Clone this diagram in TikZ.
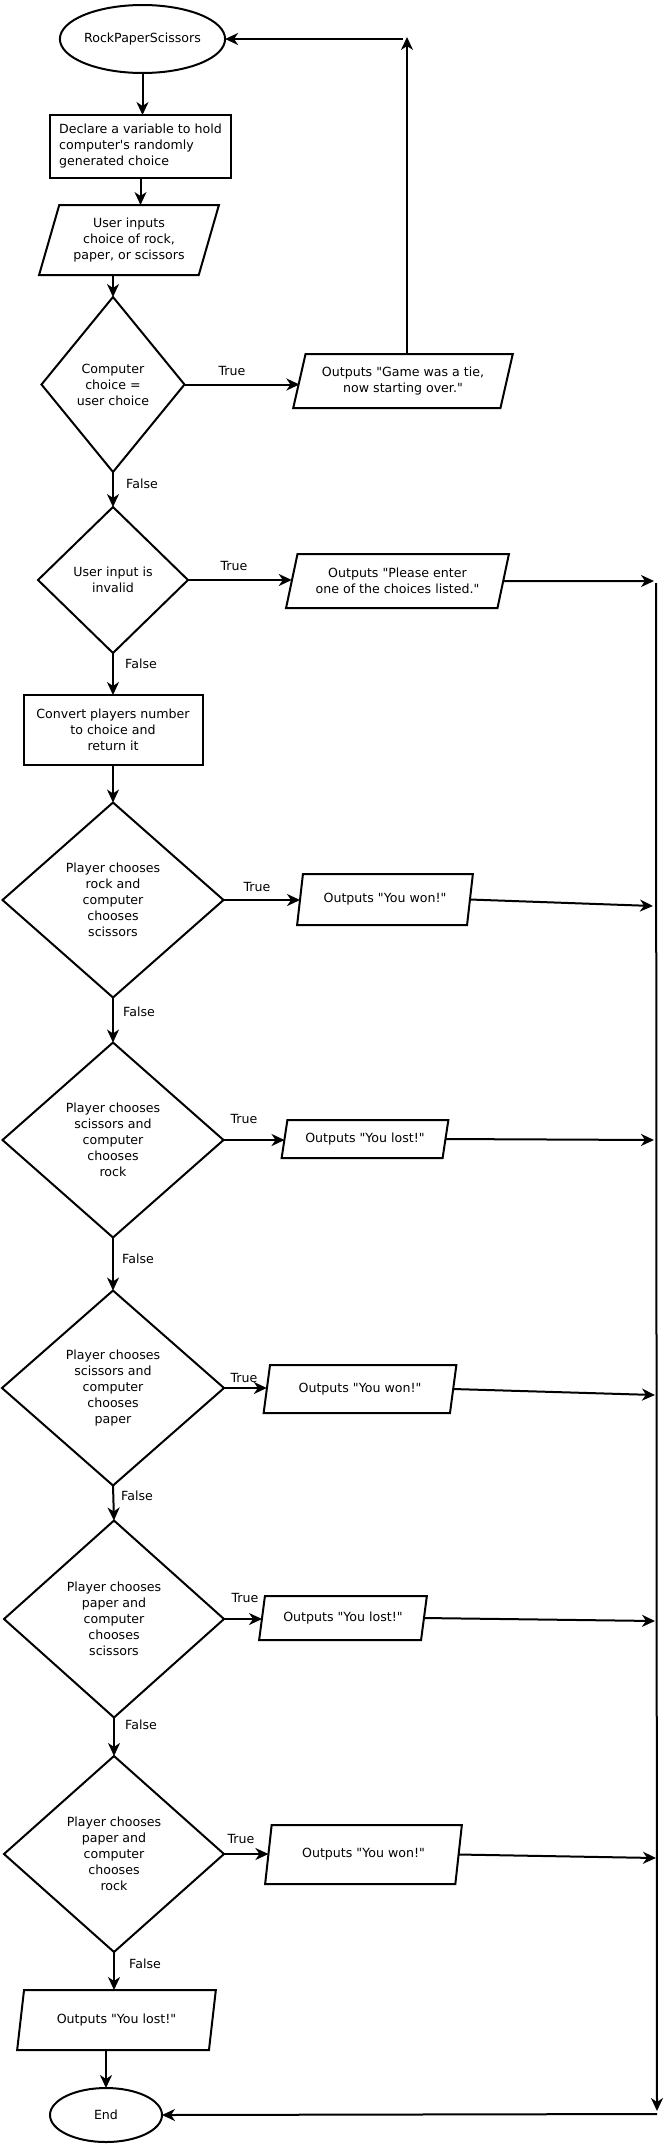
\documentclass[tikz,border=0pt]{standalone}
\usepackage{fontspec}
\setmainfont{DejaVu Sans}[Ligatures=TeXOff]
\usetikzlibrary{shapes.geometric,arrows.meta}
\begin{document}
\begin{tikzpicture}[x=1pt,y=-1pt,
  line width=2pt,
  every node/.style={font=\fontsize{12.6}{16}\selectfont, inner sep=0pt, outer sep=0pt},
  term/.style={draw, ellipse},
  procbox/.style={draw, rectangle},
  io/.style={draw, trapezium, trapezium left angle=70, trapezium right angle=110, trapezium stretches=true, align=center},
  decision/.style={draw, diamond, align=center},
  arr/.style={-{Stealth[length=13pt,width=12pt,inset=4pt]}},
  lbl/.style={}
]
\fill[white] (0,0) rectangle (667,2147);
\useasboundingbox (0,0) rectangle (667,2147);

% nodes
\node[term, minimum width=145pt, minimum height=68pt] (start) at (142.5,39) {RockPaperScissors};
\node[procbox, minimum width=181pt, minimum height=63pt, align=left] (decl) at (140.5,146.5) {Declare a variable to hold\\computer's randomly\\generated choice};
\node[io, minimum width=180pt, minimum height=70pt] (inp) at (129,240) {User inputs\\ choice of rock,\\paper, or scissors};
\node[decision, minimum width=143pt, minimum height=175pt] (d1) at (113,384.5) {Computer\\choice =\\user choice};
\node[io, minimum width=220pt, minimum height=54pt] (tie) at (403,381) {Outputs "Game was a tie,\\now starting over."};
\node[decision, minimum width=150pt, minimum height=146pt] (d2) at (113,580) {User input is\\invalid};
\node[io, minimum width=223pt, minimum height=54pt] (inval) at (397.5,581) {Outputs "Please enter\\one of the choices listed."};
\node[procbox, minimum width=179pt, minimum height=70pt, align=center] (conv) at (113,730) {Convert players number\\to choice and\\return it};
\node[decision, minimum width=221pt, minimum height=195pt] (d3) at (113,900) {Player chooses\\rock and\\computer\\chooses\\scissors};
\node[io, minimum width=176pt, minimum height=51pt] (w1) at (385,899.5) {Outputs "You won!"};
\node[decision, minimum width=221pt, minimum height=195pt] (d4) at (113,1140) {Player chooses\\scissors and\\computer\\chooses\\rock};
\node[io, minimum width=167pt, minimum height=38pt] (l1) at (365,1139) {Outputs "You lost!"};
\node[decision, minimum width=222pt, minimum height=195pt] (d5) at (113,1388) {Player chooses\\scissors and\\computer\\chooses\\paper};
\node[io, minimum width=193pt, minimum height=48pt] (w2) at (360,1389) {Outputs "You won!"};
\node[decision, minimum width=220pt, minimum height=197pt] (d6) at (114,1619) {Player chooses\\paper and\\computer\\chooses\\scissors};
\node[io, minimum width=168pt, minimum height=44pt] (l2) at (343,1618) {Outputs "You lost!"};
\node[decision, minimum width=220pt, minimum height=196pt] (d7) at (114,1854) {Player chooses\\paper and\\computer\\chooses\\rock};
\node[io, minimum width=197pt, minimum height=59pt] (w3) at (363.5,1854.5) {Outputs "You won!"};
\node[io, minimum width=199pt, minimum height=60pt] (l3) at (116.5,2020) {Outputs "You lost!"};
\node[term, minimum width=112pt, minimum height=54pt] (end) at (106,2115) {End};

% labels
\node[lbl] (t1) at (232,371) {True};
\node[lbl] (t2) at (234,566) {True};
\node[lbl] (t3) at (257,887) {True};
\node[lbl] (t4) at (244,1119) {True};
\node[lbl] (t5) at (244,1378) {True};
\node[lbl] (t6) at (245,1598) {True};
\node[lbl] (t7) at (241,1839) {True};
\node[lbl] (f1) at (142,484) {False};
\node[lbl] (f2) at (141,664) {False};
\node[lbl] (f3) at (139,1012) {False};
\node[lbl] (f4) at (138,1259) {False};
\node[lbl] (f5) at (137,1496) {False};
\node[lbl] (f6) at (141,1725) {False};
\node[lbl] (f7) at (145,1964) {False};

% coordinates
\coordinate (upR) at (407,37);
\coordinate (upL) at (403,39);
\coordinate (rtop) at (656,583);
\coordinate (rbot) at (657,2111);
\coordinate (bstart) at (657,2114);
\coordinate (e3) at (654,581);
\coordinate (e4) at (653,906);
\coordinate (e5) at (654,1140);
\coordinate (e6) at (655,1395);
\coordinate (e7) at (655,1621);
\coordinate (e8) at (656,1858);

% connectors
\draw[arr] (start.south) -- (start.south |- decl.north);
\draw[arr] (decl.south) -- (decl.south |- inp.north);
\draw[arr] (d1.north |- inp.south) -- (d1.north);
\draw[arr] (d1.east) -- (d1.east -| tie.west);
\draw[arr] (tie.north -| upR) -- (upR);
\draw[arr] (upL) -- (start.east);
\draw[arr] (d1.south) -- (d2.north);
\draw[arr] (d2.east) -- (d2.east -| inval.west);
\draw[arr] (inval.east) -- (e3);
\draw[arr] (rtop) -- (rbot);
\draw[arr] (bstart) -- (end.east);
\draw[arr] (d2.south) -- (conv.north);
\draw[arr] (conv.south) -- (d3.north);
\draw[arr] (d3.east) -- (d3.east -| w1.west);
\draw[arr] (w1.east) -- (e4);
\draw[arr] (d3.south) -- (d4.north);
\draw[arr] (d4.east) -- (d4.east -| l1.west);
\draw[arr] (l1.east) -- (e5);
\draw[arr] (d4.south) -- (d5.north);
\draw[arr] (d5.east) -- (d5.east -| w2.west);
\draw[arr] (w2.east) -- (e6);
\draw[arr] (d5.south) -- (d6.north);
\draw[arr] (d6.east) -- (d6.east -| l2.west);
\draw[arr] (l2.east) -- (e7);
\draw[arr] (d6.south) -- (d7.north);
\draw[arr] (d7.east) -- (d7.east -| w3.west);
\draw[arr] (w3.east) -- (e8);
\draw[arr] (d7.south) -- (d7.south |- l3.north);
\draw[arr] (end.north |- l3.south) -- (end.north);
\end{tikzpicture}
\end{document}
